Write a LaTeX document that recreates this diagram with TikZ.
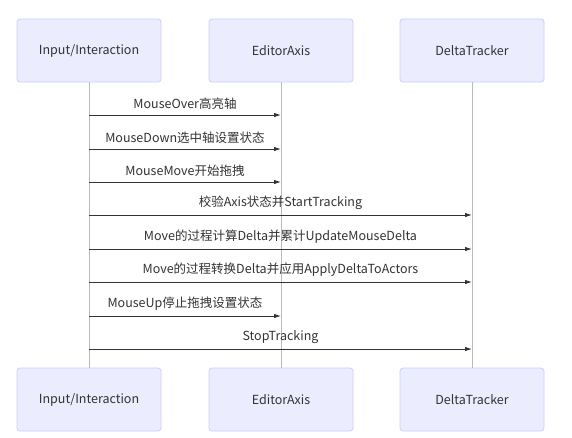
\documentclass[tikz,border=0pt]{standalone}
\usepackage{fontspec}
\setmainfont{Noto Sans CJK SC}
\usetikzlibrary{arrows.meta}
\definecolor{actfill}{HTML}{ECECFF}
\definecolor{actline}{HTML}{CCCCFF}
\definecolor{ink}{HTML}{333333}
\definecolor{life}{HTML}{BBBBBB}

\begin{document}
\begin{tikzpicture}[x=1pt, y=-1pt,
  every node/.style = {font=\fontsize{12.5}{14}\selectfont, text=ink},
  actor/.style = {draw=actline, fill=actfill, rounded corners=3pt,
    minimum width=144pt, minimum height=63pt, inner sep=0pt, line width=0.8pt},
  lifeline/.style = {draw=life, line width=0.8pt},
  msg/.style = {draw=ink, line width=0.9pt, -{Latex[length=7pt,width=4.5pt]}}]
  \useasboundingbox (0,0) rectangle (572,437);

  % actors, top and bottom
  \node[actor] (inT) at (89,50.5) {Input/Interaction};
  \node[actor] (axT) at (281,50.5) {EditorAxis};
  \node[actor] (dtT) at (472,50.5) {DeltaTracker};
  \node[actor] (inB) at (89,399.5) {Input/Interaction};
  \node[actor] (axB) at (281,399.5) {EditorAxis};
  \node[actor] (dtB) at (472,399.5) {DeltaTracker};

  % lifelines
  \draw[lifeline] (inT) -- (inB);
  \draw[lifeline] (axT) -- (axB);
  \draw[lifeline] (dtT) -- (dtB);

  % messages
  \foreach \y/\to/\txt in {
      115/axT/MouseOver高亮轴,
      149/axT/MouseDown选中轴设置状态,
      182/axT/MouseMove开始拖拽,
      215/dtT/校验Axis状态并StartTracking,
      249/dtT/Move的过程计算Delta并累计UpdateMouseDelta,
      282/dtT/Move的过程转换Delta并应用ApplyDeltaToActors,
      316/axT/MouseUp停止拖拽设置状态,
      349/dtT/StopTracking}
    \draw[msg] (inT |- 0,\y) -- node[above=1.5pt] {\txt} (\to |- 0,\y);
\end{tikzpicture}
\end{document}
